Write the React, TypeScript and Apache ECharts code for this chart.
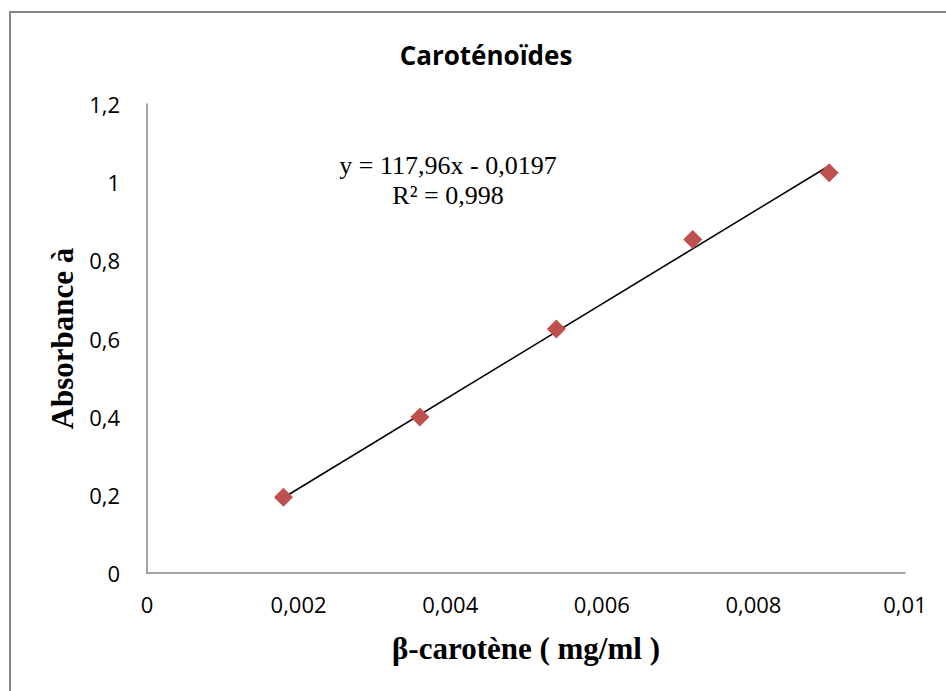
import React, { useEffect, useRef } from "react";
import * as echarts from "echarts";

const concentrations = [0.0018, 0.0036, 0.0054, 0.0072, 0.009];
const absorbances = [0.194, 0.399, 0.624, 0.853, 1.024];
const SLOPE = 117.96;
const INTERCEPT = -0.0197;
const equationLines = ["y = 117,96x - 0,0197", "R² = 0,998"];
const chartTitle = "Caroténoïdes";
const xTitle = "β-carotène ( mg/ml )";
const yTitle = "Absorbance à";

const fmt = (v: number) => String(+v.toFixed(4)).replace(".", ",");

export default function App() {
  const ref = useRef<HTMLDivElement>(null);
  useEffect(() => {
    if (!ref.current) return;
    const chart = echarts.init(ref.current, undefined, { renderer: "svg" });
    const xStart = concentrations[0];
    const xEnd = concentrations[concentrations.length - 1];
    const trend = [
      [xStart, SLOPE * xStart + INTERCEPT],
      [xEnd, SLOPE * xEnd + INTERCEPT],
    ];
    chart.setOption({
      animation: false,
      backgroundColor: "#ffffff",
      title: {
        text: chartTitle,
        left: 481,
        top: 37,
        textAlign: "center",
        textStyle: { fontFamily: "Open Sans", fontWeight: "bold", fontSize: 26, color: "#000" },
      },
      grid: { left: 147, right: 41, top: 104, bottom: 118, containLabel: false },
      xAxis: {
        type: "value",
        min: 0,
        max: 0.01,
        interval: 0.002,
        name: xTitle,
        nameLocation: "middle",
        nameGap: 60,
        nameTextStyle: { fontFamily: "Liberation Serif", fontWeight: "bold", fontSize: 31, color: "#000" },
        axisLine: { show: true, lineStyle: { color: "#868686", width: 1.5 } },
        axisTick: { show: false },
        splitLine: { show: false },
        axisLabel: {
          formatter: fmt,
          margin: 20,
          fontFamily: "Open Sans",
          fontSize: 22,
          color: "#000",
        },
      },
      yAxis: {
        type: "value",
        min: 0,
        max: 1.2,
        interval: 0.2,
        name: yTitle,
        nameLocation: "middle",
        nameRotate: 90,
        nameGap: 68,
        nameTextStyle: { fontFamily: "Liberation Serif", fontWeight: "bold", fontSize: 31, color: "#000" },
        axisLine: { show: true, lineStyle: { color: "#868686", width: 1.5 } },
        axisTick: { show: false },
        splitLine: { show: false },
        axisLabel: {
          formatter: fmt,
          margin: 27,
          fontFamily: "Open Sans",
          fontSize: 22,
          color: "#000",
        },
      },
      graphic: [
        {
          type: "rect",
          shape: { x: 10, y: 12, width: 960, height: 720 },
          style: { fill: "none", stroke: "#868686", lineWidth: 2 },
          silent: true,
        },
        {
          type: "text",
          x: 448,
          y: 165,
          style: {
            text: equationLines[0],
            fontFamily: "Liberation Serif",
            fontSize: 26,
            fill: "#000",
            textAlign: "center",
            textVerticalAlign: "middle",
          },
        },
        {
          type: "text",
          x: 448,
          y: 195,
          style: {
            text: equationLines[1],
            fontFamily: "Liberation Serif",
            fontSize: 26,
            fill: "#000",
            textAlign: "center",
            textVerticalAlign: "middle",
          },
        },
      ],
      series: [
        {
          type: "line",
          data: trend,
          showSymbol: false,
          symbol: "none",
          lineStyle: { color: "#000", width: 1.6 },
          z: 2,
        },
        {
          type: "scatter",
          data: concentrations.map((c, i) => [c, absorbances[i]]),
          symbol: "diamond",
          symbolSize: [19, 19],
          itemStyle: { color: "#C0504D", opacity: 1 },
          z: 3,
        },
      ],
    });
    return () => chart.dispose();
  }, []);
  return (
    <div
      ref={ref}
      style={{ position: "absolute", left: 0, top: 0, width: 946, height: 691 }}
    />
  );
}
